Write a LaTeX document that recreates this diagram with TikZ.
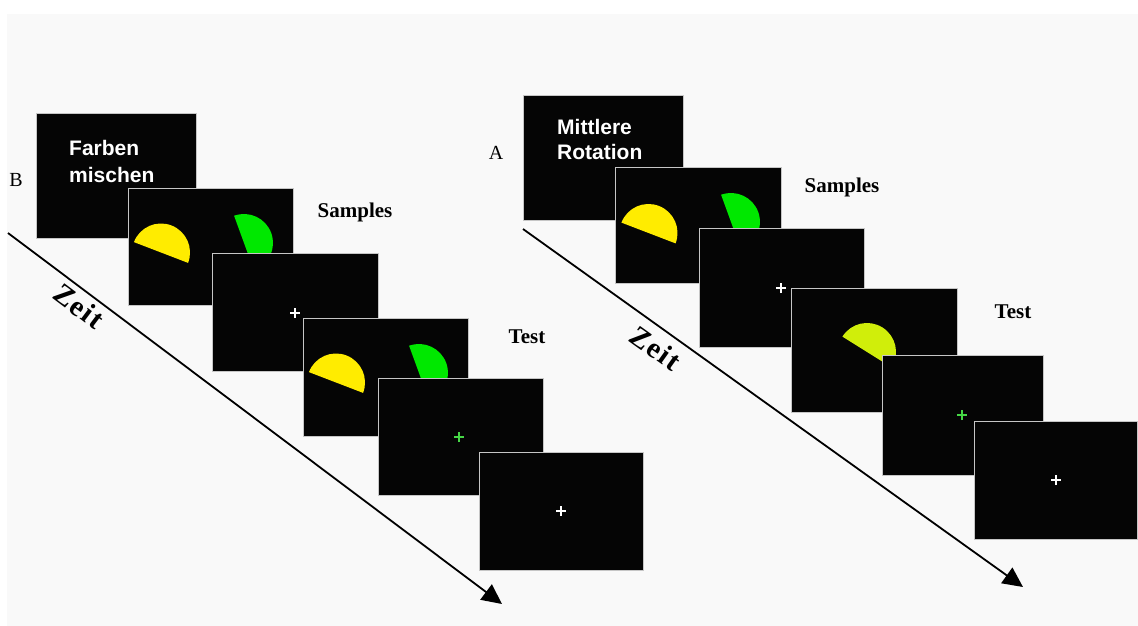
\documentclass[tikz,border=0pt]{standalone}
\usepackage{fontspec}
\setmainfont{Liberation Serif}
\newfontfamily\boxfont{Liberation Sans}
\newfontfamily\zeitfont[LetterSpace=6]{Liberation Serif}
\usetikzlibrary{calc,arrows.meta}
\definecolor{bgc}{RGB}{249,249,249}
\definecolor{scr}{RGB}{5,5,5}
\definecolor{yel}{RGB}{255,236,0}
\definecolor{grn}{RGB}{0,232,0}
\definecolor{ygr}{RGB}{208,238,10}
\definecolor{fixg}{RGB}{70,215,70}
\tikzset{
  screen/.style={draw=gray!45, line width=0.9pt, fill=scr, inner sep=0pt, outer sep=0pt, anchor=north west},
  lbl/.style={font=\bfseries\fontsize{21}{25}\selectfont, inner sep=0pt},
  panel/.style={font=\fontsize{20}{24}\selectfont, inner sep=0pt},
  zeit/.style={font=\zeitfont\bfseries\fontsize{29}{32}\selectfont, inner sep=0pt},
  screentext/.style={text=white, align=left, anchor=west, inner sep=0pt, font=\boxfont\bfseries\fontsize{21}{26}\selectfont},
  timeline/.style={line width=1.8pt, -{Triangle[length=20pt,width=19pt]}},
  fixline/.style={line width=1.3pt}
}
\newcommand\fixcross[3]{\draw[fixline,#3] ($(#1.north west)+(#2)$) ++(-5,0) -- ++(10,0) ++(-5,-5) -- ++(0,10);}
\newcommand\halfdisk[4]{\fill[#4] ($(#1.north west)+(#2)$) ++(#3:29pt) arc[start angle=#3, delta angle=180, radius=29pt] -- cycle;}
\begin{document}
\begin{tikzpicture}[x=1pt,y=1pt]
\useasboundingbox (0,0) rectangle (1138,-626);
\fill[white] (0,0) rectangle (1138,-626);
\fill[bgc] (7,-14) rectangle (1138,-626);

% ---------- Panel B ----------
\coordinate (tB0) at (8,-233);
\coordinate (tB1) at (502,-604);
\draw[timeline] (tB0) -- (tB1);
\node[zeit, rotate=-37] (zeitB) at (79,-306) {Zeit};
\node[panel] (labB) at (16,-180) {B};

\node[screen, minimum width=160pt, minimum height=125pt] (L1) at (36,-113) {};
\node[screentext, font=\boxfont\bfseries\fontsize{21}{27}\selectfont] (L1t) at (69,-161.5) {Farben\\mischen};

\node[screen, minimum width=165pt, minimum height=117pt] (L2) at (128,-188) {};
\halfdisk{L2}{33,-64.5}{-21}{yel}
\halfdisk{L2}{116,-55}{-70}{grn}

\node[screen, minimum width=166pt, minimum height=118pt] (L3) at (212,-253) {};
\fixcross{L3}{83,-60}{white}

\node[screen, minimum width=165pt, minimum height=118pt] (L4) at (303,-318) {};
\halfdisk{L4}{33,-64.5}{-21}{yel}
\halfdisk{L4}{116,-55}{-70}{grn}

\node[screen, minimum width=165pt, minimum height=117pt] (L5) at (378,-378) {};
\fixcross{L5}{81,-59}{fixg}

\node[screen, minimum width=164pt, minimum height=118pt] (L6) at (479,-452) {};
\fixcross{L6}{82,-59}{white}

\node[lbl] (sampL) at (355,-212) {Samples};
\node[lbl] (testL) at (527,-337) {Test};

% ---------- Panel A ----------
\coordinate (tA0) at (523,-229);
\coordinate (tA1) at (1023,-587);
\draw[timeline] (tA0) -- (tA1);
\node[zeit, rotate=-35.6] (zeitA) at (656,-348) {Zeit};
\node[panel] (labA) at (496,-153) {A};

\node[screen, minimum width=160pt, minimum height=125pt] (R1) at (523,-95) {};
\node[screentext, font=\boxfont\bfseries\fontsize{21}{25}\selectfont] (R1t) at (557,-139.5) {Mittlere\\Rotation};

\node[screen, minimum width=166pt, minimum height=116pt] (R2) at (615,-167) {};
\halfdisk{R2}{33.5,-66}{-21}{yel}
\halfdisk{R2}{116,-55}{-70}{grn}

\node[screen, minimum width=165pt, minimum height=119pt] (R3) at (699,-228) {};
\fixcross{R3}{82,-60}{white}

\node[screen, minimum width=166pt, minimum height=124pt] (R4) at (791,-288) {};
\halfdisk{R4}{76,-64}{-32}{ygr}

\node[screen, minimum width=161pt, minimum height=120pt] (R5) at (882,-355) {};
\fixcross{R5}{80,-60}{fixg}

\node[screen, minimum width=163pt, minimum height=118pt] (R6) at (974,-421) {};
\fixcross{R6}{82,-59}{white}

\node[lbl] (sampR) at (842,-187) {Samples};
\node[lbl] (testR) at (1013,-312) {Test};
\end{tikzpicture}
\end{document}
